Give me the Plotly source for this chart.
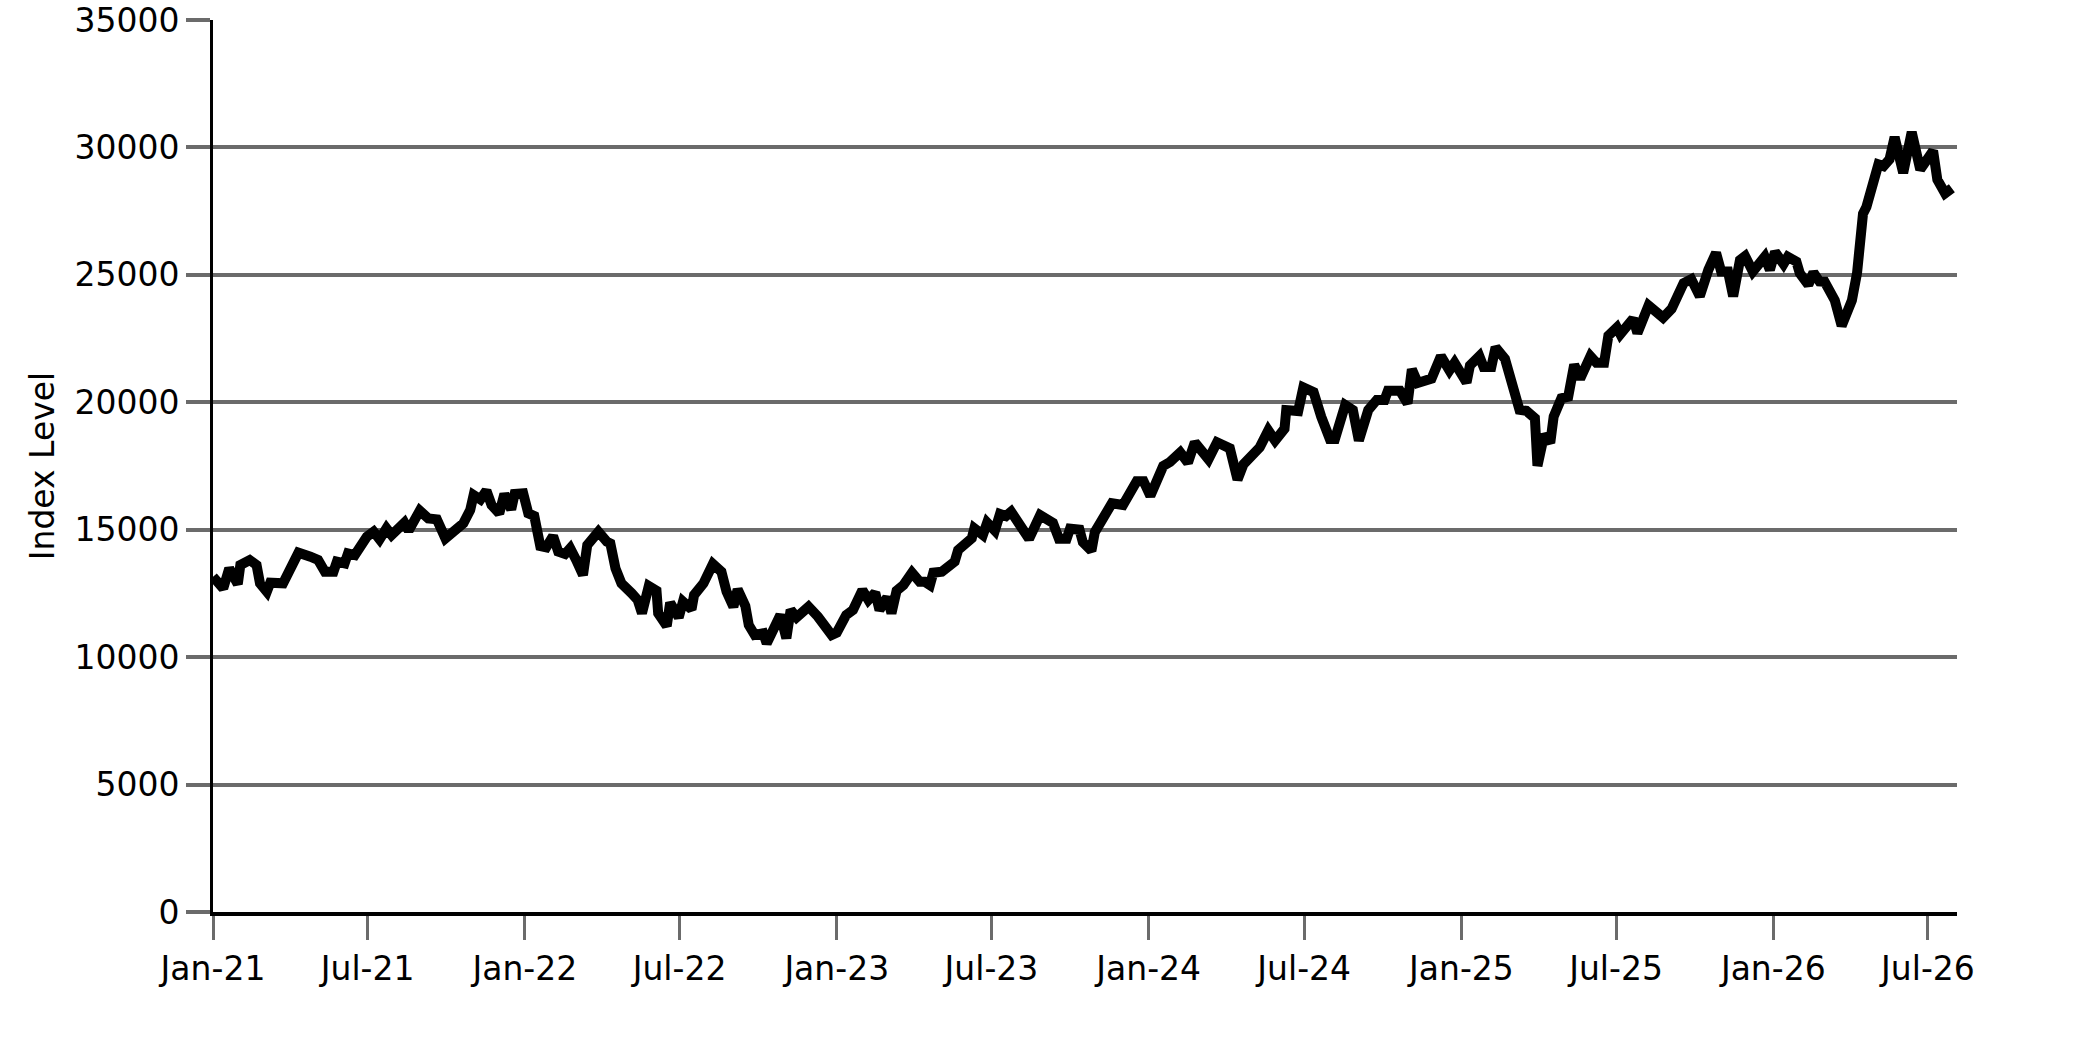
import pandas as pd
import plotly.graph_objects as go


# Day offsets from 2021-01-01 and index levels
day_offsets = [
    0, 12, 19, 29, 32, 43, 51, 55, 63, 67, 82, 90, 100, 114, 123, 131, 141, 145,
    154, 158, 166, 180, 188, 195, 203, 209, 224, 229, 242, 252, 262, 272, 293,
    301, 305, 313, 320, 326, 335, 341, 349, 353, 363, 369, 376, 383, 390, 398,
    404, 412, 418, 425, 433, 438, 451, 461, 465, 471, 478, 490, 497, 502, 510,
    519, 521, 531, 535, 545, 550, 560, 563, 574, 585, 595, 601, 609, 614, 623,
    627, 634, 644, 648, 664, 671, 676, 683, 697, 708, 724, 730, 741, 749, 760,
    767, 775, 780, 789, 794, 800, 808, 818, 827, 833, 839, 843, 853, 868, 872,
    882, 888, 891, 901, 906, 915, 921, 928, 934, 944, 955, 968, 983, 990, 999,
    1003, 1014, 1018, 1028, 1032, 1052, 1065, 1081, 1089, 1097, 1112, 1120,
    1132, 1141, 1149, 1165, 1175, 1190, 1199, 1206, 1225, 1235, 1243, 1254,
    1256, 1270, 1276, 1288, 1297, 1307, 1313, 1325, 1334, 1341, 1352, 1362,
    1371, 1375, 1389, 1398, 1403, 1410, 1426, 1437, 1447, 1453, 1467, 1471,
    1482, 1487, 1496, 1501, 1512, 1522, 1529, 1537, 1547, 1550, 1558, 1565,
    1569, 1578, 1586, 1593, 1600, 1612, 1619, 1628, 1633, 1643, 1647, 1662,
    1667, 1680, 1697, 1707, 1721, 1730, 1740, 1750, 1759, 1765, 1773, 1779,
    1787, 1793, 1802, 1816, 1822, 1828, 1838, 1843, 1853, 1857, 1867, 1873,
    1880, 1886, 1898, 1906, 1918, 1924, 1931, 1935, 1943, 1949, 1955, 1962,
    1968, 1978, 1988, 1998, 2013, 2018, 2027, 2035,
]

index_level = [
    13157, 12700, 13484, 12870, 13615, 13811, 13615, 12895, 12568, 12921, 12895,
    13353, 14099, 13942, 13811, 13353, 13353, 13745, 13680, 14073, 14007, 14727,
    14923, 14622, 15053, 14792, 15276, 14962, 15747, 15446, 15407, 14661, 15250,
    15773, 16362, 16191, 16532, 15969, 15642, 16401, 15799, 16401, 16427, 15642,
    15537, 14360, 14308, 14753, 14138, 14046, 14269, 13811, 13222, 14400, 14923,
    14531, 14466, 13485, 12896, 12504, 12242, 11719, 12791, 12608, 11719, 11222,
    12137, 11562, 12177, 11876, 12438, 12896, 13655, 13354, 12569, 11980, 12660,
    12007, 11261, 10869, 10934, 10542, 11654, 10738, 11850, 11562, 11980, 11588,
    10869, 10960, 11654, 11850, 12634, 12242, 12530, 11850, 12347, 11719, 12608,
    12831, 13315, 12961, 12961, 12831, 13315, 13354, 13746, 14204, 14531, 14662,
    15054, 14793, 15277, 14963, 15617, 15538, 15708, 15173, 14641, 15572, 15266,
    14641, 14641, 15040, 15000, 14508, 14175, 14907, 16037, 15971, 16902, 16902,
    16330, 17500, 17660, 18032, 17633, 18431, 17766, 18431, 18192, 16968, 17567,
    18232, 18897, 18498, 18963, 19695, 19655, 20586, 20400, 19429, 18564, 18564,
    19894, 19695, 18498, 19695, 20094, 20094, 20453, 20453, 19961, 21291, 20759,
    20930, 21809, 21253, 21550, 20775, 21447, 21809, 21382, 21382, 22158, 21705,
    20413, 19703, 19664, 19380, 17506, 18734, 18411, 19444, 20155, 20220, 21473,
    20930, 21809, 21550, 21550, 22610, 22933, 22674, 23282, 22713, 23799, 23320,
    23669, 24677, 24832, 24160, 25194, 25866, 25129, 25129, 24160, 25581, 25736,
    25129, 25711, 25194, 25905, 25426, 25711, 25517, 25065, 24612, 25091, 24741,
    24733, 24000, 23000, 24000, 25067, 27400, 27667, 28667, 29333, 29267, 29533,
    30400, 29000, 30600, 29133, 29867, 28733, 28200, 28400,
]

y_ticks = [0, 5000, 10000, 15000, 20000, 25000, 30000, 35000]


def build_dates(offsets):
    """Turns day offsets into timestamps starting at 2021-01-01."""
    return pd.Timestamp("2021-01-01") + pd.to_timedelta(offsets, unit="D")


def build_figure(dates, values):
    """Builds the line chart of the index level."""
    font = dict(family="DejaVu Sans", size=33, color="black")

    fig = go.Figure()
    fig.add_trace(
        go.Scatter(
            x=dates,
            y=values,
            mode="lines",
            line=dict(color="black", width=10),
            showlegend=False,
        )
    )

    fig.update_layout(
        width=2083,
        height=1042,
        margin=dict(l=213, r=126, t=20, b=130),
        paper_bgcolor="white",
        plot_bgcolor="white",
        font=font,
    )

    fig.update_xaxes(
        type="date",
        range=["2021-01-01", "2026-08-04"],
        tick0="2021-01-01",
        dtick="M6",
        tickformat="%b-%y",
        showgrid=False,
        showline=True,
        linecolor="black",
        linewidth=4,
        ticks="outside",
        ticklen=24,
        tickwidth=3,
        tickcolor="#6b6b6b",
        tickfont=font,
        automargin=False,
    )

    fig.update_yaxes(
        range=[0, 35000],
        tickvals=y_ticks,
        tickformat="d",
        showgrid=True,
        gridcolor="#6b6b6b",
        gridwidth=4,
        zeroline=False,
        showline=True,
        linecolor="black",
        linewidth=3,
        ticks="outside",
        ticklen=24,
        tickwidth=4,
        tickcolor="#6b6b6b",
        tickfont=font,
        title=dict(text="Index Level", font=font, standoff=10),
        automargin=False,
    )
    return fig


if __name__ == "__main__":
    dates = build_dates(day_offsets)
    fig = build_figure(dates, index_level)
    # the page body has a default margin; drop it so the figure sits at 0,0
    fig.write_html(
        "out.html",
        config={"displayModeBar": False},
        post_script="document.body.style.margin = '0';",
    )
